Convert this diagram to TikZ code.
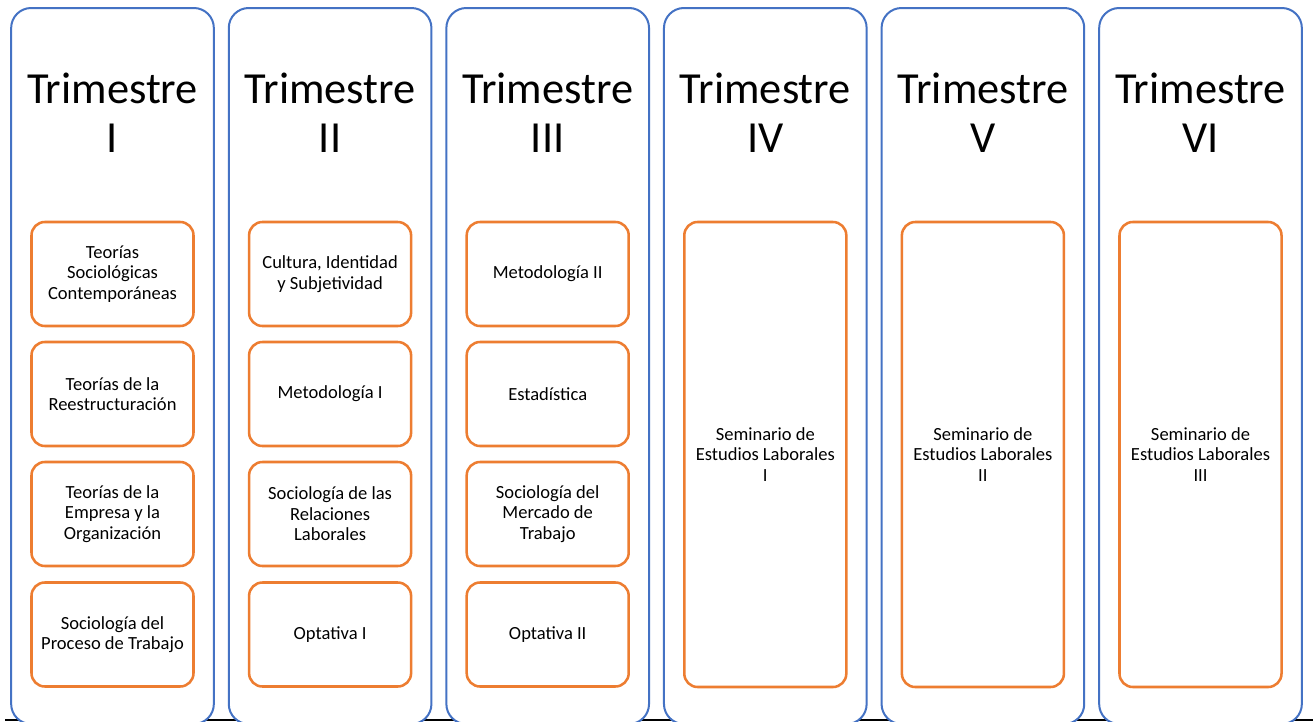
\documentclass[tikz,border=0pt]{standalone}
\usepackage{fontspec}
\setmainfont{Carlito}
\definecolor{trimblue}{HTML}{4472C4}
\definecolor{materiaorange}{HTML}{ED7D31}

\begin{document}
\begin{tikzpicture}[x=0.75pt, y=-0.75pt,
  trimestre/.style={draw=trimblue, line width=1.5pt, fill=white, rounded corners=15pt,
    minimum width=152pt, minimum height=537pt, inner sep=0pt},
  titulo/.style={align=center, inner sep=0pt, font=\fontsize{33.3}{36.75}\selectfont},
  materia/.style={draw=materiaorange, line width=1.9pt, rounded corners=10pt,
    minimum width=121.5pt, minimum height=78pt, inner sep=0pt, align=center,
    font=\fontsize{13.9}{15.4}\selectfont},
  seminario/.style={materia, minimum height=348.75pt}]
\clip (0, 0) rectangle (1313, 721);
\fill[white] (0, 0) rectangle (1313, 721);
\draw[black, line width=1.5pt] (5, 720) -- (1313, 720);

\node[trimestre] (t1) at (112.5, 366) {};
\node[trimestre] (t2) at (330.1, 366) {};
\node[trimestre] (t3) at (547.7, 366) {};
\node[trimestre] (t4) at (765.3, 366) {};
\node[trimestre] (t5) at (982.9, 366) {};
\node[trimestre] (t6) at (1200.5, 366) {};

\node[titulo] (tit1) at (112.5, 113) {Trimestre\\I};
\node[titulo] (tit2) at (330.1, 113) {Trimestre\\II};
\node[titulo] (tit3) at (547.7, 113) {Trimestre\\III};
\node[titulo] (tit4) at (765.3, 113) {Trimestre\\IV};
\node[titulo] (tit5) at (982.9, 113) {Trimestre\\V};
\node[titulo] (tit6) at (1200.5, 113) {Trimestre\\VI};

% trimestre I
\node[materia] (m11) at (112.5, 274) {Teorías\\Sociológicas\\Contemporáneas};
\node[materia] (m12) at (112.5, 394) {Teorías de la\\Reestructuración};
\node[materia] (m13) at (112.5, 514) {Teorías de la\\Empresa y la\\Organización};
\node[materia] (m14) at (112.5, 634.5) {Sociología del\\Proceso de Trabajo};

% trimestre II
\node[materia] (m21) at (330.1, 274) {Cultura, Identidad\\y Subjetividad};
\node[materia] (m22) at (330.1, 394) {Metodología I};
\node[materia] (m23) at (330.1, 514) {Sociología de las\\Relaciones\\Laborales};
\node[materia] (m24) at (330.1, 634.5) {Optativa I};

% trimestre III
\node[materia] (m31) at (547.7, 274) {Metodología II};
\node[materia] (m32) at (547.7, 394) {Estadística};
\node[materia] (m33) at (547.7, 514) {Sociología del\\Mercado de\\Trabajo};
\node[materia] (m34) at (547.7, 634.5) {Optativa II};

% seminarios
\node[seminario] (s4) at (765.3, 454.5) {Seminario de\\Estudios Laborales\\I};
\node[seminario] (s5) at (982.9, 454.5) {Seminario de\\Estudios Laborales\\II};
\node[seminario] (s6) at (1200.5, 454.5) {Seminario de\\Estudios Laborales\\III};
\end{tikzpicture}
\end{document}
